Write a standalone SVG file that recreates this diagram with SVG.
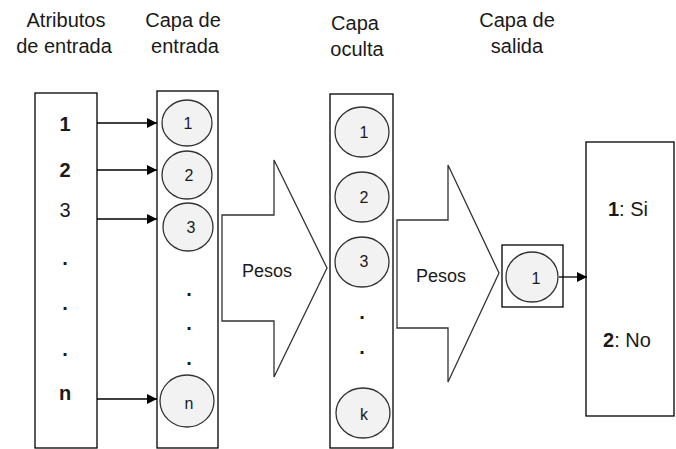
<svg xmlns="http://www.w3.org/2000/svg" width="676" height="449" viewBox="0 0 676 449">
<defs>
<style>
text{font-family:"Liberation Sans",Arial,sans-serif;fill:#1a1a1a}
.t{font-size:20px;text-anchor:middle}
.n{font-size:20px;text-anchor:middle;dominant-baseline:central}
.c{font-size:16px;text-anchor:middle;dominant-baseline:central}
.b{font-weight:bold}
.box{fill:#fff;stroke:#000;stroke-width:1.3}
.neu{fill:#f2f2f2;stroke:#333;stroke-width:1.3}
.ar{fill:#fff;stroke:#333;stroke-width:1.3;stroke-linejoin:miter}
.ln{stroke:#000;stroke-width:1.3;fill:none}
</style>
<marker id="ah" markerWidth="10" markerHeight="10" viewBox="0 0 10 10" refX="10" refY="5" orient="auto" markerUnits="userSpaceOnUse">
<path d="M0,0 L10,5 L0,10 Z" fill="#000"/>
</marker>
</defs>
<rect width="676" height="449" fill="#fff"/>

<g id="titles">
<text class="t" x="66" y="27">Atributos</text>
<text class="t" x="64" y="53">de entrada</text>
<text class="t" x="183" y="27">Capa de</text>
<text class="t" x="185" y="53">entrada</text>
<text class="t" x="355" y="30">Capa</text>
<text class="t" x="357" y="56">oculta</text>
<text class="t" x="517" y="27">Capa de</text>
<text class="t" x="517" y="53">salida</text>
</g>

<g id="atributos">
<rect class="box" x="35" y="93" width="62" height="355"/>
<text class="n b" x="65" y="124">1</text>
<text class="n b" x="65" y="170">2</text>
<text class="n" x="65" y="210">3</text>
<text class="n b" x="65" y="258">.</text>
<text class="n b" x="65" y="303">.</text>
<text class="n b" x="65" y="349">.</text>
<text class="n b" x="65" y="393">n</text>
</g>

<g id="capa-entrada">
<rect class="box" x="157" y="91" width="61" height="357"/>
<ellipse class="neu" cx="187" cy="123" rx="25" ry="23"/>
<text class="c" x="188" y="123">1</text>
<ellipse class="neu" cx="187" cy="175" rx="25" ry="24"/>
<text class="c" x="189" y="175">2</text>
<ellipse class="neu" cx="188" cy="227" rx="25" ry="24"/>
<text class="c" x="191" y="227">3</text>
<text class="n b" x="189" y="289">.</text>
<text class="n b" x="189" y="323">.</text>
<text class="n b" x="189" y="358">.</text>
<ellipse class="neu" cx="187" cy="401" rx="27" ry="26"/>
<text class="c" x="189" y="403">n</text>
</g>

<g id="pesos-1">
<path class="ar" d="M222,215 L274,215 L274,160 L327,268 L274,377 L274,321 L222,321 Z"/>
<text class="t" x="267" y="277" style="font-size:18px">Pesos</text>
</g>

<g id="capa-oculta">
<rect class="box" x="330" y="94" width="63" height="354"/>
<ellipse class="neu" cx="362" cy="132" rx="27" ry="25"/>
<text class="c" x="364" y="132">1</text>
<ellipse class="neu" cx="362" cy="197" rx="27" ry="25"/>
<text class="c" x="364" y="197">2</text>
<ellipse class="neu" cx="362" cy="262" rx="27" ry="25"/>
<text class="c" x="364" y="261">3</text>
<text class="n b" x="362" y="312">.</text>
<text class="n b" x="362" y="347">.</text>
<ellipse class="neu" cx="363" cy="413" rx="27" ry="25"/>
<text class="c" x="364" y="414">k</text>
</g>

<g id="pesos-2">
<path class="ar" d="M397,220 L448,220 L448,165 L499,273 L448,382 L448,328 L397,328 Z"/>
<text class="t" x="441" y="282" style="font-size:18px">Pesos</text>
</g>

<g id="capa-salida">
<rect class="box" x="502" y="245" width="61" height="62"/>
<ellipse class="neu" cx="532" cy="277" rx="26" ry="25"/>
<text class="c" x="536" y="278">1</text>
</g>

<g id="salida">
<rect class="box" x="586" y="142" width="88" height="274"/>
<text class="t" x="628" y="216"><tspan class="b">1</tspan>: Si</text>
<text class="t" x="627" y="347"><tspan class="b">2</tspan>: No</text>
</g>

<g id="connectors">
<line class="ln" x1="97" y1="123" x2="157" y2="123" marker-end="url(#ah)"/>
<line class="ln" x1="97" y1="170" x2="157" y2="170" marker-end="url(#ah)"/>
<line class="ln" x1="97" y1="219" x2="157" y2="219" marker-end="url(#ah)"/>
<line class="ln" x1="97" y1="399" x2="157" y2="399" marker-end="url(#ah)"/>
<line class="ln" x1="559" y1="277" x2="587" y2="277" marker-end="url(#ah)"/>
</g>
</svg>
